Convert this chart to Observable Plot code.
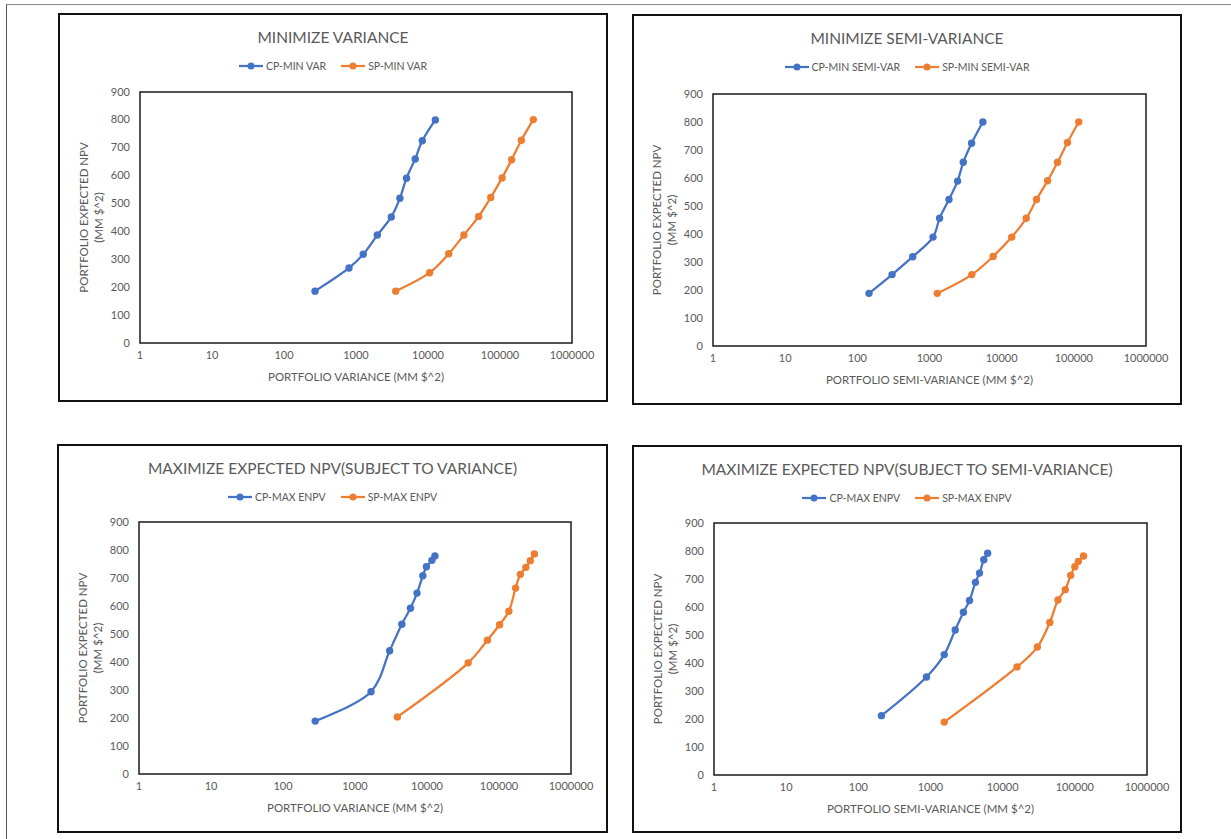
<!DOCTYPE html>
<html>
<head>
<meta charset="utf-8">
<script src="https://cdn.jsdelivr.net/npm/d3@7"></script>
<script src="https://cdn.jsdelivr.net/npm/@observablehq/plot@0.6"></script>
<style>
  html, body { margin: 0; padding: 0; background: #fff; }
  body { width: 1231px; height: 839px; position: relative; overflow: hidden; font-family: Lato, "Open Sans", sans-serif; }
  .sheet { position: absolute; left: 6px; top: 4px; width: 1240px; height: 860px;
           border-top: 1.5px solid #8a8a8a; border-left: 1.5px solid #555; }
  .panel { position: absolute; box-sizing: border-box; border: 2.5px solid #111; background: #fff; }
  .panel svg { position: absolute; left: 0; top: 0; overflow: visible; }
  .title { position: absolute; left: 0; right: 0; text-align: center; color: #595959;
           font-size: 15.5px; line-height: 20px; white-space: nowrap; }
  .legend { position: absolute; left: 0; right: 0; display: flex; justify-content: center; gap: 15px;
            color: #595959; font-size: 10.5px; line-height: 14px; }
  .legend span { display: inline-flex; align-items: center; gap: 3px; }
</style>
</head>
<body>
<div class="sheet"></div>
<script>
// Efficient frontiers: portfolio expected NPV against portfolio (semi-)variance
const seriesColors = { cp: "#4472C4", sp: "#ED7D31" };
const xTicks = [1, 10, 100, 1000, 10000, 100000, 1000000];
const yTicks = [0, 100, 200, 300, 400, 500, 600, 700, 800, 900];
const yTitle = "PORTFOLIO EXPECTED NPV\n(MM $^2)";

// Minimize variance
const minVarCpVariance = [270, 800, 1260, 1980, 3090, 4070, 5030, 6640, 8330, 12650];
const minVarCpNpv      = [186, 269, 318, 387, 452, 519, 591, 660, 725, 800];
const minVarSpVariance = [3560, 10550, 19400, 31500, 50600, 74400, 107000, 145000, 198000, 290000];
const minVarSpNpv      = [186, 252, 320, 387, 454, 522, 592, 657, 727, 801];

// Minimize semi-variance
const minSemiCpSemiVar = [145, 303, 585, 1120, 1380, 1860, 2450, 2940, 3830, 5490];
const minSemiCpNpv     = [188, 255, 319, 389, 456, 523, 589, 656, 724, 800];
const minSemiSpSemiVar = [1280, 3860, 7620, 13800, 21900, 30400, 43300, 59500, 81700, 117000];
const minSemiSpNpv     = [188, 255, 320, 389, 456, 523, 590, 656, 727, 800];

// Maximize expected NPV subject to variance
const maxVarCpVariance = [280, 1670, 3030, 4470, 5890, 7270, 8750, 9810, 11700, 12900];
const maxVarCpNpv      = [189, 294, 440, 535, 592, 646, 708, 740, 763, 779];
const maxVarSpVariance = [3880, 37300, 69000, 102000, 137000, 170000, 198000, 236000, 272000, 310000];
const maxVarSpNpv      = [204, 397, 478, 533, 581, 664, 713, 738, 762, 786];

// Maximize expected NPV subject to semi-variance
const maxSemiCpSemiVar = [209, 880, 1550, 2200, 2860, 3470, 4190, 4780, 5480, 6190];
const maxSemiCpNpv     = [212, 350, 430, 518, 581, 623, 688, 721, 769, 792];
const maxSemiSpSemiVar = [1550, 15800, 30300, 45000, 58400, 73600, 87500, 100000, 112000, 132000];
const maxSemiSpNpv     = [189, 386, 457, 545, 625, 662, 713, 744, 763, 782];

const panels = [
  { box: [58, 13, 608, 402], frame: [140, 92, 572, 343],
    title: "MINIMIZE VARIANCE", xTitle: "PORTFOLIO VARIANCE (MM $^2)",
    names: ["CP-MIN VAR", "SP-MIN VAR"],
    cp: [minVarCpVariance, minVarCpNpv], sp: [minVarSpVariance, minVarSpNpv] },
  { box: [632, 14, 1182, 405], frame: [713, 94, 1146, 346],
    title: "MINIMIZE SEMI-VARIANCE", xTitle: "PORTFOLIO SEMI-VARIANCE (MM $^2)",
    names: ["CP-MIN SEMI-VAR", "SP-MIN SEMI-VAR"],
    cp: [minSemiCpSemiVar, minSemiCpNpv], sp: [minSemiSpSemiVar, minSemiSpNpv] },
  { box: [57, 444, 608, 833], frame: [139, 522, 571, 774],
    title: "MAXIMIZE EXPECTED NPV(SUBJECT TO VARIANCE)", xTitle: "PORTFOLIO VARIANCE (MM $^2)",
    names: ["CP-MAX ENPV", "SP-MAX ENPV"],
    cp: [maxVarCpVariance, maxVarCpNpv], sp: [maxVarSpVariance, maxVarSpNpv] },
  { box: [632, 445, 1182, 833], frame: [714, 523, 1147, 775],
    title: "MAXIMIZE EXPECTED NPV(SUBJECT TO SEMI-VARIANCE)", xTitle: "PORTFOLIO SEMI-VARIANCE (MM $^2)",
    names: ["CP-MAX ENPV", "SP-MAX ENPV"],
    cp: [maxSemiCpSemiVar, maxSemiCpNpv], sp: [maxSemiSpSemiVar, maxSemiSpNpv] }
];

const BORDER = 2.5;

function legendMarker(color) {
  const ns = "http://www.w3.org/2000/svg";
  const svg = document.createElementNS(ns, "svg");
  svg.setAttribute("width", 24); svg.setAttribute("height", 10);
  svg.style.position = "static";
  svg.innerHTML = `<line x1="0" x2="24" y1="5" y2="5" stroke="${color}" stroke-width="2.25"/>` +
                  `<circle cx="12" cy="5" r="3.5" fill="${color}"/>`;
  return svg;
}

function toRows(pair, series) {
  return pair[0].map((v, i) => ({ x: v, y: pair[1][i], series }));
}

for (const p of panels) {
  const div = document.createElement("div");
  div.className = "panel";
  const [bx0, by0, bx1, by1] = p.box;
  Object.assign(div.style, { left: bx0 + "px", top: by0 + "px",
    width: (bx1 - bx0) + "px", height: (by1 - by0) + "px" });
  document.body.appendChild(div);

  const ox = bx0 + BORDER, oy = by0 + BORDER;
  const W = bx1 - bx0 - 2 * BORDER, H = by1 - by0 - 2 * BORDER;
  const [fx0, fy0, fx1, fy1] = p.frame;

  const cpRows = toRows(p.cp, "cp");
  const spRows = toRows(p.sp, "sp");

  const chart = Plot.plot({
    width: W, height: H,
    marginLeft: fx0 - ox, marginRight: ox + W - fx1,
    marginTop: fy0 - oy, marginBottom: oy + H - fy1,
    style: { fontFamily: "Lato, 'Open Sans', sans-serif", fontSize: "11px", color: "#595959", background: "transparent" },
    x: { type: "log", domain: [1, 1000000] },
    y: { domain: [0, 900] },
    marks: [
      Plot.axisX({ ticks: xTicks, tickFormat: d => String(d), tickSize: 0, tickPadding: 8, label: null, fill: "#595959" }),
      Plot.axisY({ ticks: yTicks, tickFormat: d => String(d), tickSize: 0, tickPadding: 10, label: null, fill: "#595959" }),
      Plot.frame({ stroke: "#1a1a1a", strokeWidth: 1.5 }),
      Plot.line(cpRows, { x: "x", y: "y", stroke: seriesColors.cp, strokeWidth: 2.25, curve: "catmull-rom" }),
      Plot.dot(cpRows, { x: "x", y: "y", r: 3.7, fill: seriesColors.cp }),
      Plot.line(spRows, { x: "x", y: "y", stroke: seriesColors.sp, strokeWidth: 2.25, curve: "catmull-rom" }),
      Plot.dot(spRows, { x: "x", y: "y", r: 3.7, fill: seriesColors.sp }),
      Plot.text([p.xTitle], { frameAnchor: "bottom", dy: 38, fontSize: 11.5, fill: "#595959" }),
      Plot.text([yTitle], { frameAnchor: "left", dx: -49, rotate: -90, fontSize: 11.5, fill: "#595959",
                            textAnchor: "middle", lineAnchor: "middle", lineHeight: 1.25 })
    ]
  });
  div.appendChild(chart);

  const title = document.createElement("div");
  title.className = "title";
  title.style.top = "12px";
  title.textContent = p.title;
  div.appendChild(title);

  const legend = document.createElement("div");
  legend.className = "legend";
  legend.style.top = "44px";
  [["cp", p.names[0]], ["sp", p.names[1]]].forEach(([key, name]) => {
    const item = document.createElement("span");
    item.appendChild(legendMarker(seriesColors[key]));
    const t = document.createElement("span");
    t.textContent = name;
    item.appendChild(t);
    legend.appendChild(item);
  });
  div.appendChild(legend);
}
</script>
</body>
</html>
